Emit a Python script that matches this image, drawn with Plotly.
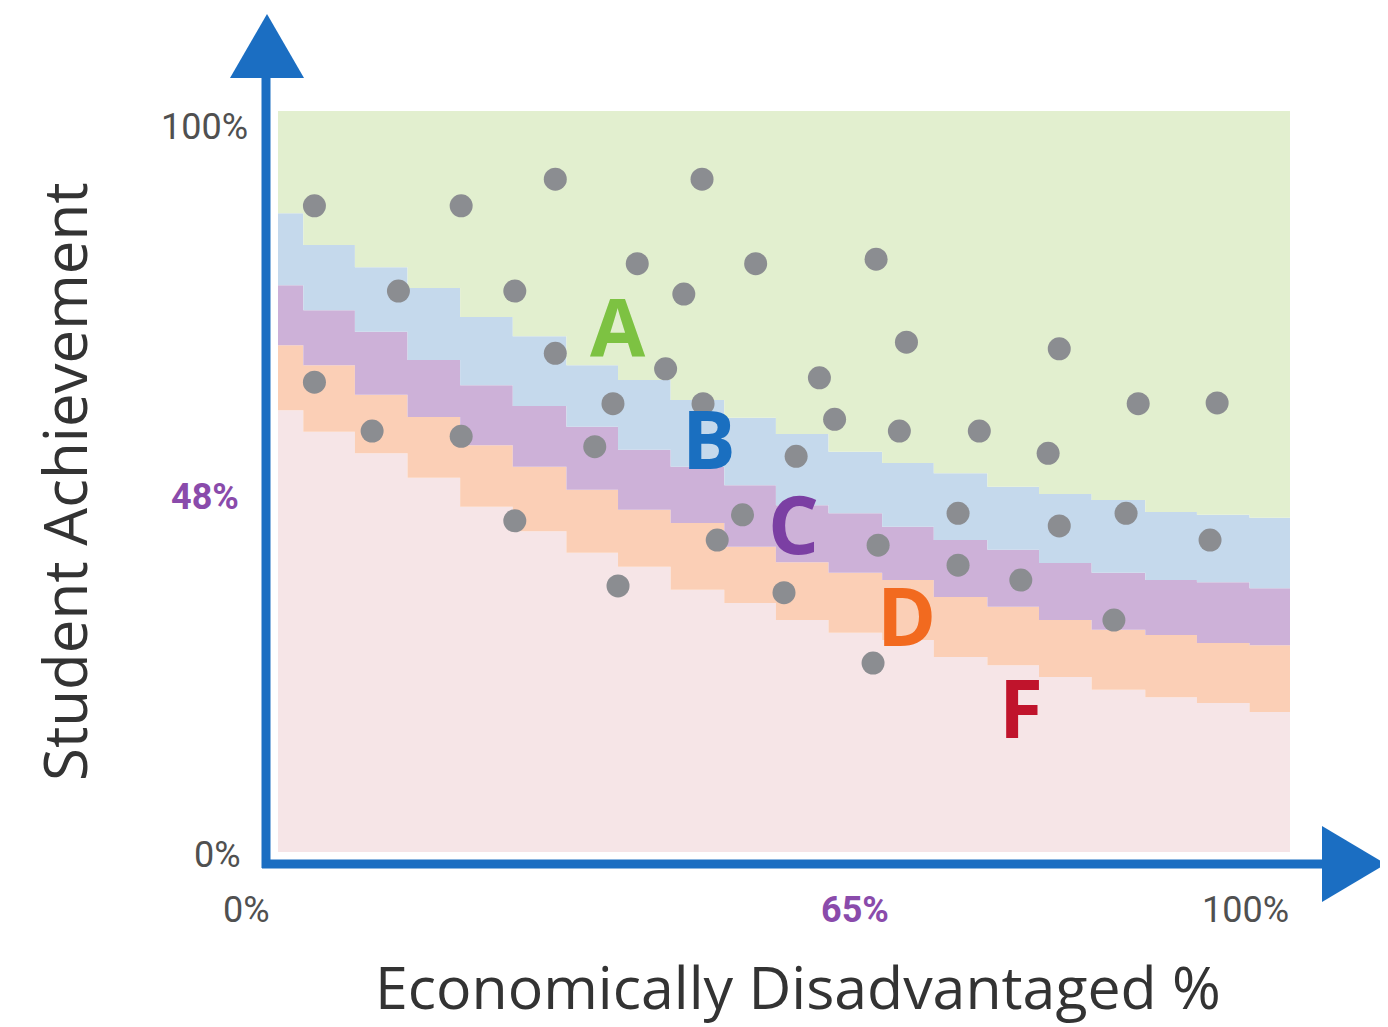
import plotly.graph_objects as go

# step edges along x (economically disadvantaged %), 20 steps
x_edges = [0, 2.5, 7.6, 12.8, 18.0, 23.2, 28.5, 33.6, 38.8, 44.1, 49.2,
           54.4, 59.7, 64.8, 70.1, 75.2, 80.4, 85.7, 90.8, 96.0, 100]

# upper edge of each grade band, one value per step
f_top = [59.6, 56.7, 53.8, 50.5, 46.6, 43.3, 40.4, 38.5, 35.4, 33.6,
         31.3, 29.6, 28.6, 26.3, 25.2, 23.6, 21.9, 20.9, 20.1, 18.9]
d_top = [68.4, 65.7, 61.7, 58.7, 54.9, 52.0, 48.9, 46.2, 44.4, 41.2,
         39.1, 37.7, 36.7, 34.4, 33.1, 31.3, 30.0, 29.3, 28.2, 27.9]
c_top = [76.5, 73.1, 70.2, 66.4, 63.0, 60.2, 57.4, 54.3, 52.0, 49.5,
         46.8, 45.7, 43.9, 42.1, 40.8, 39.0, 37.7, 36.7, 36.4, 35.6]
b_top = [86.2, 81.9, 78.9, 76.1, 72.2, 69.6, 65.7, 63.7, 61.0, 58.6,
         56.4, 54.0, 52.5, 51.1, 49.3, 48.3, 47.5, 45.9, 45.5, 45.1]
a_top = [100] * 20

# schools
school_x = [3.6, 18.1, 27.4, 41.9, 11.9, 23.4, 35.5, 40.1, 47.2, 59.1,
            27.4, 38.3, 62.1, 77.2, 3.6, 33.1, 9.3, 18.1, 31.3, 42.0,
            53.5, 55.0, 61.4, 69.3, 76.1, 85.0, 92.8, 51.2, 23.4, 45.9,
            43.4, 33.6, 50.0, 59.3, 67.2, 67.2, 73.4, 77.2, 83.8, 92.1,
            82.6, 58.8]
school_y = [87.2, 87.2, 90.8, 90.8, 75.7, 75.7, 79.4, 75.3, 79.4, 80.0,
            67.3, 65.2, 68.8, 67.9, 63.4, 60.5, 56.8, 56.1, 54.7, 60.5,
            64.0, 58.4, 56.8, 56.8, 53.8, 60.5, 60.6, 53.4, 44.7, 45.5,
            42.1, 35.9, 35.0, 41.4, 45.7, 38.7, 36.7, 44.0, 45.7, 42.1,
            31.3, 25.5]

grades = ["A", "B", "C", "D", "F"]
grade_x = [33.6, 42.6, 50.9, 62.1, 73.4]
grade_y = [71.1, 56.0, 44.5, 32.0, 19.7]
grade_colors = ["#7dc242", "#1a6fc0", "#7b3fa3", "#f26a1f", "#c0142c"]

band_tops = [f_top, d_top, c_top, b_top, a_top]
band_fills = ["#f6e5e7", "#fbcfb6", "#cdb1d8", "#c5d9ec", "#e2efcf"]

# pixel layout (page body has an 8px margin, so the figure is shifted)
OFF = 8
W, H = 1388 - OFF, 1027 - OFF
X0, XS = 278 - OFF, 10.12   # px of x=0, px per unit
Y0, YS = 852 - OFF, 7.41    # px of y=0, px per unit


def px(xp):
    return (xp - OFF) / W


def py(yp):
    return 1 - (yp - OFF) / H


fig = go.Figure()

for i, (top, col) in enumerate(zip(band_tops, band_fills)):
    fig.add_trace(go.Scatter(
        x=x_edges, y=top + [top[-1]],
        mode="lines", line=dict(width=0, shape="hv"),
        fill="tozeroy" if i == 0 else "tonexty",
        fillcolor=col, hoverinfo="skip", showlegend=False
    ))

fig.add_trace(go.Scatter(
    x=school_x, y=school_y, mode="markers",
    marker=dict(size=23, color="#8b8d91", line=dict(width=0)),
    showlegend=False
))

for g, gx, gy, gc in zip(grades, grade_x, grade_y, grade_colors):
    fig.add_annotation(x=gx, y=gy, text=f"<b>{g}</b>", showarrow=False,
                       font=dict(family="Open Sans", size=80, color=gc))

blue = "#1b6ec2"
# axis lines and arrows
fig.add_shape(type="line", xref="paper", yref="paper",
              x0=px(266), y0=py(868), x1=px(266), y1=py(70),
              line=dict(color=blue, width=9))
fig.add_shape(type="line", xref="paper", yref="paper",
              x0=px(262), y0=py(864), x1=px(1330), y1=py(864),
              line=dict(color=blue, width=9))
fig.add_shape(type="path", xref="paper", yref="paper",
              path=f"M {px(267)} {py(14)} L {px(304)} {py(78)} L {px(230)} {py(78)} Z",
              fillcolor=blue, line=dict(width=0))
fig.add_shape(type="path", xref="paper", yref="paper",
              path=f"M {px(1386)} {py(864)} L {px(1322)} {py(902)} L {px(1322)} {py(826)} Z",
              fillcolor=blue, line=dict(width=0))

gray = "#505050"
purple = "#8a4bab"
ticks = [
    ("100%", 204, 127, gray, False),
    ("48%", 205, 497, purple, True),
    ("0%", 217, 855, gray, False),
    ("0%", 246, 910, gray, False),
    ("65%", 855, 910, purple, True),
    ("100%", 1245, 910, gray, False),
]
for t, tx, ty, tc, bold in ticks:
    fig.add_annotation(xref="paper", yref="paper", x=px(tx), y=py(ty),
                       text=f"<b>{t}</b>" if bold else t, showarrow=False,
                       xanchor="center", yanchor="middle",
                       font=dict(family="Roboto", size=36, color=tc))

fig.add_annotation(xref="paper", yref="paper", x=px(64), y=py(482),
                   text="Student Achievement", textangle=-90, showarrow=False,
                   xanchor="center", yanchor="middle",
                   font=dict(family="Open Sans", size=60, color="#333333"))
fig.add_annotation(xref="paper", yref="paper", x=px(798), y=py(986),
                   text="Economically Disadvantaged %", showarrow=False,
                   xanchor="center", yanchor="middle",
                   font=dict(family="Open Sans", size=59, color="#333333"))

fig.update_layout(
    width=W, height=H,
    margin=dict(l=0, r=0, t=0, b=0),
    paper_bgcolor="white", plot_bgcolor="white",
    xaxis=dict(range=[-X0 / XS, (W - X0) / XS], visible=False, fixedrange=True),
    yaxis=dict(range=[(Y0 - H) / YS, Y0 / YS], visible=False, fixedrange=True),
    showlegend=False,
)

fig.write_html("out.html")
